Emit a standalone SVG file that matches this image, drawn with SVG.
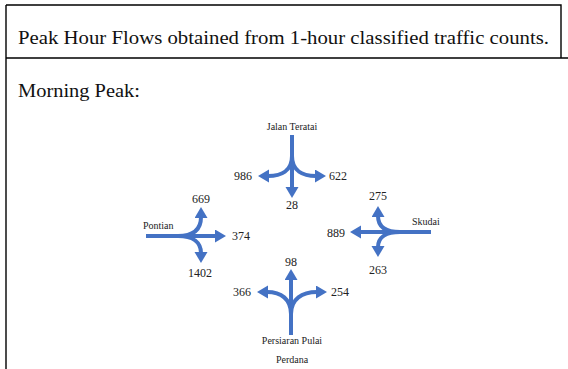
<svg xmlns="http://www.w3.org/2000/svg" width="568" height="369" viewBox="0 0 568 369">
  <style>
    .rule { stroke: #000; stroke-width: 1.4; fill: none; }
    .head { font-family: "Liberation Serif", "Times New Roman", serif; font-size: 18px; fill: #111; }
    .road { stroke: #4472C4; stroke-width: 4; fill: none; marker-end: url(#tip); }
    .flow { font-family: "Liberation Serif", "Times New Roman", serif; font-size: 12px; fill: #222; }
    .name { font-family: "Liberation Serif", "Times New Roman", serif; font-size: 10px; fill: #222; }
  </style>
  <defs>
    <marker id="tip" markerUnits="userSpaceOnUse" markerWidth="12" markerHeight="14" refX="1" refY="6.5" orient="auto">
      <path d="M0,0 L11,6.5 L0,13 z" fill="#4472C4"/>
    </marker>
  </defs>
  <rect width="568" height="369" fill="#fff"/>

  <!-- table frame -->
  <g id="frame">
    <path class="rule" d="M6,5 V369 M6,5 H561 V58 M6,58 H568"/>
    <text class="head" x="18" y="44" textLength="531" lengthAdjust="spacingAndGlyphs">Peak Hour Flows obtained from 1-hour classified traffic counts.</text>
    <text class="head" x="18" y="97" textLength="122" lengthAdjust="spacingAndGlyphs">Morning Peak:</text>
  </g>

  <!-- approach movements -->
  <g id="connectors">
    <!-- Jalan Teratai (north) -->
    <path class="road" d="M292,135 V188"/>
    <path class="road" d="M292,156 C292,171 281,176 268,176"/>
    <path class="road" d="M292,156 C292,171 303,176 316,176"/>
    <!-- Pontian (west) -->
    <path class="road" d="M146,236 H216"/>
    <path class="road" d="M178,236 C194,236 201,229 201,217"/>
    <path class="road" d="M178,236 C194,236 201,243 201,253"/>
    <!-- Skudai (east) -->
    <path class="road" d="M431,232 H360"/>
    <path class="road" d="M400,232 C385,232 378,226 378,216"/>
    <path class="road" d="M400,232 C385,232 378,238 378,247"/>
    <!-- Persiaran Pulai Perdana (south) -->
    <path class="road" d="M291,335 V279"/>
    <path class="road" d="M291,314 C291,299 281,292 267,292"/>
    <path class="road" d="M291,314 C291,299 302,292 317,292"/>
  </g>

  <g id="north">
    <text class="name" x="292" y="130" text-anchor="middle">Jalan Teratai</text>
    <text class="flow" x="252" y="180" text-anchor="end">986</text>
    <text class="flow" x="329" y="180">622</text>
    <text class="flow" x="292" y="209" text-anchor="middle">28</text>
  </g>

  <g id="west">
    <text class="name" x="143" y="229">Pontian</text>
    <text class="flow" x="201" y="203" text-anchor="middle">669</text>
    <text class="flow" x="232" y="240">374</text>
    <text class="flow" x="200" y="277" text-anchor="middle">1402</text>
  </g>

  <g id="east">
    <text class="name" x="412" y="225">Skudai</text>
    <text class="flow" x="378" y="200" text-anchor="middle">275</text>
    <text class="flow" x="345" y="237" text-anchor="end">889</text>
    <text class="flow" x="378" y="274" text-anchor="middle">263</text>
  </g>

  <g id="south">
    <text class="flow" x="291" y="266" text-anchor="middle">98</text>
    <text class="flow" x="251" y="296" text-anchor="end">366</text>
    <text class="flow" x="331" y="296">254</text>
    <text class="name" x="292" y="344" text-anchor="middle">Persiaran Pulai</text>
    <text class="name" x="292" y="363" text-anchor="middle">Perdana</text>
  </g>
</svg>
